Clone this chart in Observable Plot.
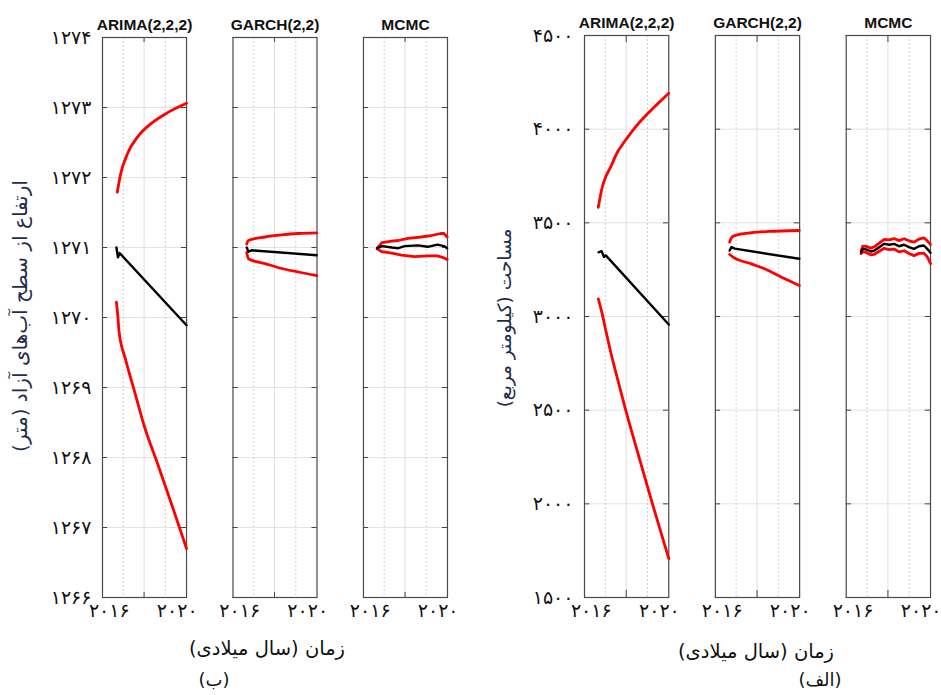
<!DOCTYPE html>
<html><head><meta charset="utf-8">
<script src="https://cdn.jsdelivr.net/npm/d3@7"></script>
<script src="https://cdn.jsdelivr.net/npm/@observablehq/plot@0.6"></script>
<style>
body{margin:0;background:#fff;}
#wrap{position:relative;width:941px;height:695px;overflow:hidden;font-family:"DejaVu Sans",sans-serif;background:#fff;}
.p{position:absolute;top:0;}
.t{position:absolute;white-space:nowrap;transform:translate(-50%,-50%);direction:rtl;font-size:19.5px;color:#111;line-height:1.2;}
.r{transform:translate(-50%,-50%) rotate(-90deg);color:#1f2d4d;}
</style></head><body><div id="wrap"></div>
<script>
// ---------- categories & ticks ----------
const models = ["ARIMA(2,2,2)", "GARCH(2,2)", "MCMC"];
const yearTicks = [2016, 2020];
const xDomain = [2015.6, 2020.55];
const majorGridYears = [2018.05];
const minorGridYears = [2016.82, 2019.3];
const elevTicks = [1266, 1267, 1268, 1269, 1270, 1271, 1272, 1273, 1274];
const areaTicks = [1500, 2000, 2500, 3000, 3500, 4000, 4500];

// ---------- (ب) elevation, metres ----------
const elevArimaMeanYears  = [2016.42, 2016.51, 2016.61, 2020.55];
const elevArimaMean       = [1271.0, 1270.86, 1270.92, 1269.89];
const elevArimaUpperYears = [2016.47, 2016.67, 2017.07, 2017.67, 2018.46, 2019.46, 2020.55];
const elevArimaUpper      = [1271.79, 1272.05, 1272.34, 1272.58, 1272.77, 1272.93, 1273.06];
const elevArimaLowerYears = [2016.42, 2016.51, 2016.57, 2016.97, 2017.47, 2018.06, 2018.86, 2019.66, 2020.55];
const elevArimaLower      = [1270.22, 1270.0, 1269.81, 1269.39, 1268.96, 1268.45, 1267.9, 1267.34, 1266.70];

const elevGarchMeanYears  = [2016.41, 2016.51, 2016.7, 2020.53];
const elevGarchMean       = [1271.0, 1270.94, 1270.96, 1270.89];
const elevGarchUpperYears = [2016.41, 2016.5, 2017.49, 2018.47, 2019.45, 2020.53];
const elevGarchUpper      = [1271.05, 1271.1, 1271.15, 1271.18, 1271.2, 1271.21];
const elevGarchLowerYears = [2016.41, 2016.51, 2017.49, 2018.47, 2019.45, 2020.53];
const elevGarchLower      = [1270.93, 1270.84, 1270.77, 1270.70, 1270.65, 1270.6];

const elevMcmcMeanYears  = [2016.41, 2016.69, 2017.27, 2017.65, 2018.03, 2018.81, 2019.38, 2019.96, 2020.34, 2020.53];
const elevMcmcMean       = [1270.99, 1271.02, 1271.0, 1270.99, 1271.02, 1271.03, 1271.01, 1271.04, 1271.02, 1270.99];
const elevMcmcUpperYears = [2016.41, 2016.69, 2017.27, 2017.65, 2018.23, 2019.0, 2019.57, 2020.15, 2020.34, 2020.53];
const elevMcmcUpper      = [1270.99, 1271.07, 1271.09, 1271.1, 1271.13, 1271.15, 1271.17, 1271.2, 1271.2, 1271.15];
const elevMcmcLowerYears = [2016.41, 2016.69, 2017.27, 2017.85, 2018.61, 2019.38, 2019.96, 2020.25, 2020.53];
const elevMcmcLower      = [1270.98, 1270.94, 1270.92, 1270.89, 1270.87, 1270.88, 1270.88, 1270.86, 1270.83];

// ---------- (الف) area, km² ----------
const areaArimaMeanYears  = [2016.43, 2016.6, 2016.75, 2016.85, 2020.55];
const areaArimaMean       = [3343, 3349, 3318, 3326, 2957];
const areaArimaUpperYears = [2016.41, 2016.64, 2016.84, 2017.13, 2017.53, 2017.92, 2018.51, 2019.3, 2019.89, 2020.55];
const areaArimaUpper      = [3583, 3690, 3744, 3797, 3877, 3930, 4002, 4082, 4135, 4192];
const areaArimaLowerYears = [2016.41, 2016.64, 2016.84, 2017.1, 2017.5, 2018.02, 2018.8, 2019.59, 2020.55];
const areaArimaLower      = [3094, 3014, 2930, 2825, 2680, 2500, 2250, 2000, 1707];

const areaGarchMeanYears  = [2016.44, 2016.54, 2016.74, 2020.53];
const areaGarchMean       = [3352, 3370, 3362, 3308];
const areaGarchUpperYears = [2016.44, 2016.54, 2016.74, 2017.72, 2018.71, 2020.53];
const areaGarchUpper      = [3397, 3420, 3432, 3447, 3454, 3459];
const areaGarchLowerYears = [2016.44, 2016.64, 2017.72, 2018.71, 2019.68, 2020.53];
const areaGarchLower      = [3331, 3317, 3281, 3246, 3201, 3165];

const areaMcmcYears = [2016.47, 2016.57, 2016.76, 2017.06, 2017.25, 2017.54, 2017.83, 2018.12, 2018.41, 2018.7, 2019.0, 2019.29, 2019.58, 2019.87, 2020.16, 2020.36, 2020.55];
const areaMcmcMean  = [3343, 3361, 3358, 3347, 3352, 3370, 3388, 3383, 3388, 3375, 3383, 3370, 3361, 3375, 3379, 3361, 3340];
const areaMcmcUpper = [3350, 3375, 3374, 3365, 3372, 3392, 3412, 3409, 3416, 3405, 3415, 3404, 3397, 3413, 3420, 3404, 3385];
const areaMcmcLower = [3335, 3347, 3342, 3329, 3332, 3348, 3364, 3357, 3360, 3345, 3351, 3336, 3325, 3337, 3338, 3318, 3283];

// ---------- helpers ----------
const faDigits = "۰۱۲۳۴۵۶۷۸۹";
const fa = d => String(d).replace(/\d/g, c => faDigits[+c]);
const rows = (model, kind, years, values) => years.map((year, i) => ({model, kind, year, value: values[i]}));

const elevData = [
  ...rows(models[0], "upper", elevArimaUpperYears, elevArimaUpper),
  ...rows(models[0], "lower", elevArimaLowerYears, elevArimaLower),
  ...rows(models[0], "mean", elevArimaMeanYears, elevArimaMean),
  ...rows(models[1], "upper", elevGarchUpperYears, elevGarchUpper),
  ...rows(models[1], "lower", elevGarchLowerYears, elevGarchLower),
  ...rows(models[1], "mean", elevGarchMeanYears, elevGarchMean),
  ...rows(models[2], "upper", elevMcmcUpperYears, elevMcmcUpper),
  ...rows(models[2], "lower", elevMcmcLowerYears, elevMcmcLower),
  ...rows(models[2], "mean", elevMcmcMeanYears, elevMcmcMean)
];
const areaData = [
  ...rows(models[0], "upper", areaArimaUpperYears, areaArimaUpper),
  ...rows(models[0], "lower", areaArimaLowerYears, areaArimaLower),
  ...rows(models[0], "mean", areaArimaMeanYears, areaArimaMean),
  ...rows(models[1], "upper", areaGarchUpperYears, areaGarchUpper),
  ...rows(models[1], "lower", areaGarchLowerYears, areaGarchLower),
  ...rows(models[1], "mean", areaGarchMeanYears, areaGarchMean),
  ...rows(models[2], "upper", areaMcmcYears, areaMcmcUpper),
  ...rows(models[2], "lower", areaMcmcYears, areaMcmcLower),
  ...rows(models[2], "mean", areaMcmcYears, areaMcmcMean)
];

function group(data, yTicks, width, mL, mR, mT) {
  const yDomain = d3.extent(yTicks);
  const bands = data.filter(d => d.kind !== "mean");
  return Plot.plot({
    width, height: 695,
    marginLeft: mL, marginRight: mR, marginTop: mT, marginBottom: 98,
    style: {fontFamily: "DejaVu Sans, sans-serif", background: "white", color: "#111", overflow: "visible"},
    fx: {domain: models, paddingInner: 0.356, paddingOuter: 0, round: false},
    x: {domain: xDomain},
    y: {domain: yDomain},
    marks: [
      Plot.gridY(yTicks, {stroke: "#e2e2e2", strokeOpacity: 1}),
      Plot.gridX(majorGridYears, {stroke: "#dedede", strokeOpacity: 1}),
      Plot.gridX(minorGridYears, {stroke: "#d2d2d2", strokeOpacity: 1, strokeDasharray: "2,2"}),
      Plot.tickY(yTicks, {y: d => d, insetRight: 79, stroke: "#444"}),
      Plot.tickY(yTicks, {y: d => d, insetLeft: 79, stroke: "#444"}),
      Plot.tickX(majorGridYears, {x: d => d, insetTop: 555, stroke: "#444"}),
      Plot.tickX(majorGridYears, {x: d => d, insetBottom: 555, stroke: "#444"}),
      Plot.frame({stroke: "#4a4a4a", strokeWidth: 1.2}),
      Plot.line(bands.filter(d => d.model !== "MCMC"), {x: "year", y: "value", z: "kind", fx: "model", stroke: "#ff0000", strokeWidth: 2.8, curve: "monotone-x"}),
      Plot.line(bands.filter(d => d.model === "MCMC"), {x: "year", y: "value", z: "kind", fx: "model", stroke: "#ff0000", strokeWidth: 2.8}),
      Plot.line(data.filter(d => d.kind === "mean"), {x: "year", y: "value", fx: "model", stroke: "#000", strokeWidth: 2.4}),
      Plot.axisY(yTicks, {tickSize: 0, tickPadding: 11, tickFormat: fa, fontSize: 19, label: null}),
      Plot.axisX(yearTicks, {tickSize: 0, tickPadding: 6, tickFormat: fa, fontSize: 19, label: null}),
      Plot.axisFx({anchor: "top", tickSize: 0, tickPadding: 8, fontSize: 15.5, fontWeight: "bold", fontFamily: "Liberation Sans, Arial, sans-serif", label: null})
    ]
  });
}

const wrap = document.getElementById("wrap");
const left = group(elevData, elevTicks, 470, 102, 23, 37);
left.classList.add("p"); left.style.left = "0px";
const right = group(areaData, areaTicks, 471, 114, 11, 35);
right.classList.add("p"); right.style.left = "470px";
wrap.appendChild(left);
wrap.appendChild(right);

function label(text, x, y, cls, size) {
  const d = document.createElement("div");
  d.className = "t" + (cls ? " " + cls : "");
  d.textContent = text;
  d.style.left = x + "px";
  d.style.top = y + "px";
  if (size) d.style.fontSize = size + "px";
  wrap.appendChild(d);
}
label("ارتفاع از سطح آب‌های آزاد (متر)", 20, 316, "r", 20);
label("مساحت (کیلومتر مربع)", 505, 318, "r", 18.5);
label("زمان (سال میلادی)", 267, 649);
label("زمان (سال میلادی)", 756, 652);
label("(ب)", 214, 680, null, 18);
label("(الف)", 820, 680, null, 18);
</script></body></html>
